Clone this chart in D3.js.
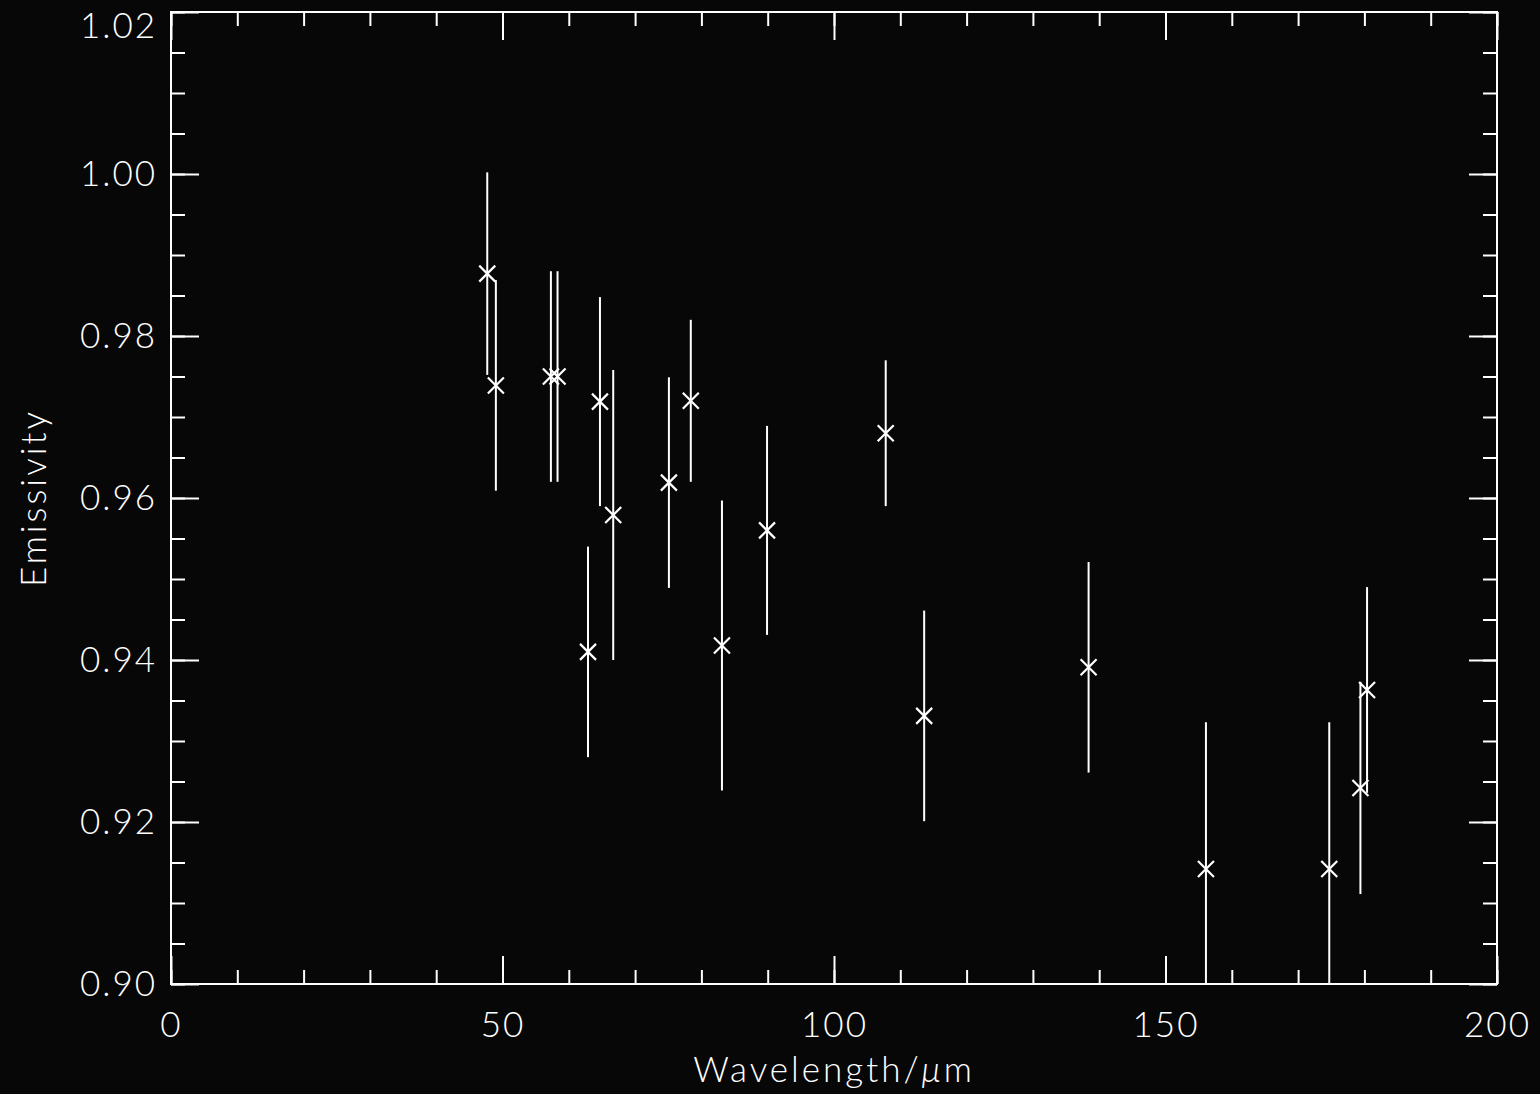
<!DOCTYPE html>
<html>
<head>
<meta charset="utf-8">
<script src="https://cdn.jsdelivr.net/npm/d3@7"></script>
<style>
  html, body { margin: 0; padding: 0; background: #070707; }
  svg { display: block; }
  text { fill: #ffffff; font-family: "Lato", "DejaVu Sans", sans-serif; font-weight: 300; }
</style>
</head>
<body>
<svg id="chart" width="1540" height="1094"></svg>
<script>
// Emissivity measurements vs wavelength (µm) with 1-sigma uncertainties
const wavelength = [47.7, 49.0, 57.3, 58.3, 62.9, 64.7, 66.7, 75.1, 78.4,
                    83.1, 89.9, 107.8, 113.6, 138.4, 156.1, 174.7, 179.4, 180.4];
const emissivity = [0.9877, 0.9739, 0.9750, 0.9750, 0.9410, 0.9719, 0.9579, 0.9619, 0.9720,
                    0.9418, 0.9560, 0.9680, 0.9331, 0.9391, 0.9142, 0.9142, 0.9242, 0.9363];
const uncertainty = [0.0125, 0.0130, 0.0130, 0.0130, 0.0130, 0.0129, 0.0179, 0.0130, 0.0100,
                     0.0179, 0.0129, 0.0090, 0.0130, 0.0130, 0.0181, 0.0181, 0.0131, 0.0127];

const xMajorTicks = [0, 50, 100, 150, 200];
const xMinorTicks = d3.range(0, 201, 10);
const yMajorTicks = [0.90, 0.92, 0.94, 0.96, 0.98, 1.00, 1.02];
const yMinorTicks = d3.range(0, 25).map(i => 0.90 + i * 0.005);

const plotLeft = 171, plotRight = 1497, plotTop = 12, plotBottom = 984;
const majorLen = 28, minorLen = 14;

const svg = d3.select("#chart");
const x = d3.scaleLinear().domain([0, 200]).range([plotLeft, plotRight]);
const y = d3.scaleLinear().domain([0.90, 1.02]).range([plotBottom, plotTop]);

svg.append("defs").append("clipPath").attr("id", "plotClip")
  .append("rect").attr("x", plotLeft).attr("y", plotTop)
  .attr("width", plotRight - plotLeft).attr("height", plotBottom - plotTop);

function styleAxis(g) {
  g.select(".domain").remove();
  g.selectAll(".tick line").attr("stroke", "#ffffff").attr("stroke-width", 2);
  g.selectAll(".tick text")
    .attr("fill", "#ffffff").attr("font-size", 35)
    .attr("letter-spacing", 2)
    .attr("font-family", "Lato, 'DejaVu Sans', sans-serif").attr("font-weight", 300);
}

// bottom axis: minor ticks, then labelled major ticks
svg.append("g").attr("transform", `translate(0,${plotBottom})`)
  .call(d3.axisBottom(x).tickValues(xMinorTicks).tickSizeInner(-minorLen).tickSizeOuter(0).tickFormat(""))
  .call(styleAxis);
svg.append("g").attr("transform", `translate(0,${plotBottom})`)
  .call(d3.axisBottom(x).tickValues(xMajorTicks).tickSizeInner(-majorLen).tickSizeOuter(0)
        .tickPadding(28).tickFormat(d3.format("d")))
  .call(styleAxis);

// top axis mirror
svg.append("g").attr("transform", `translate(0,${plotTop})`)
  .call(d3.axisTop(x).tickValues(xMinorTicks).tickSizeInner(-minorLen).tickSizeOuter(0).tickFormat(""))
  .call(styleAxis);
svg.append("g").attr("transform", `translate(0,${plotTop})`)
  .call(d3.axisTop(x).tickValues(xMajorTicks).tickSizeInner(-majorLen).tickSizeOuter(0).tickFormat(""))
  .call(styleAxis);

// left axis
svg.append("g").attr("transform", `translate(${plotLeft},0)`)
  .call(d3.axisLeft(y).tickValues(yMinorTicks).tickSizeInner(-minorLen).tickSizeOuter(0).tickFormat(""))
  .call(styleAxis);
const yLabelAxis = svg.append("g").attr("transform", `translate(${plotLeft},0)`)
  .call(d3.axisLeft(y).tickValues(yMajorTicks).tickSizeInner(-majorLen).tickSizeOuter(0)
        .tickPadding(14).tickFormat(d3.format(".2f")))
  .call(styleAxis);
// the topmost label is nudged down so it stays on the page
yLabelAxis.selectAll(".tick text")
  .filter(d => Math.abs(d - 1.02) < 1e-9)
  .attr("dy", "0.72em");

// right axis mirror
svg.append("g").attr("transform", `translate(${plotRight},0)`)
  .call(d3.axisRight(y).tickValues(yMinorTicks).tickSizeInner(-minorLen).tickSizeOuter(0).tickFormat(""))
  .call(styleAxis);
svg.append("g").attr("transform", `translate(${plotRight},0)`)
  .call(d3.axisRight(y).tickValues(yMajorTicks).tickSizeInner(-majorLen).tickSizeOuter(0).tickFormat(""))
  .call(styleAxis);

// frame
svg.append("rect")
  .attr("x", plotLeft).attr("y", plotTop)
  .attr("width", plotRight - plotLeft).attr("height", plotBottom - plotTop)
  .attr("fill", "none").attr("stroke", "#ffffff").attr("stroke-width", 2);

// data
const pts = wavelength.map((w, i) => ({ w, e: emissivity[i], s: uncertainty[i] }));
const plot = svg.append("g").attr("clip-path", "url(#plotClip)");

plot.selectAll("line.err").data(pts).join("line")
  .attr("class", "err")
  .attr("x1", d => x(d.w)).attr("x2", d => x(d.w))
  .attr("y1", d => y(d.e + d.s)).attr("y2", d => y(d.e - d.s))
  .attr("stroke", "#ffffff").attr("stroke-width", 2);

const r = 8;
const marks = plot.selectAll("g.mark").data(pts).join("g")
  .attr("class", "mark")
  .attr("transform", d => `translate(${x(d.w)},${y(d.e)})`);
marks.append("path")
  .attr("d", `M${-r},${-r}L${r},${r}M${-r},${r}L${r},${-r}`)
  .attr("stroke", "#ffffff").attr("stroke-width", 2.2).attr("fill", "none");

// axis titles
const xTitle = svg.append("text")
  .attr("x", (plotLeft + plotRight) / 2).attr("y", 1082)
  .attr("text-anchor", "middle").attr("font-size", 35).attr("letter-spacing", 3);
xTitle.append("tspan").text("Wavelength/");
xTitle.append("tspan").attr("font-style", "italic").text("μ");
xTitle.append("tspan").text("m");

svg.append("text")
  .attr("transform", `translate(46,${(plotTop + plotBottom) / 2}) rotate(-90)`)
  .attr("text-anchor", "middle").attr("font-size", 35).attr("letter-spacing", 3)
  .text("Emissivity");
</script>
</body>
</html>
